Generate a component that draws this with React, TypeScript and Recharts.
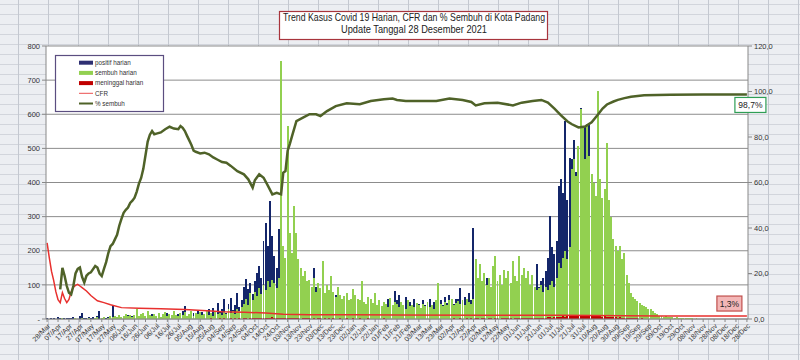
import React from 'react';
import { ComposedChart, Bar, Line, XAxis, YAxis, CartesianGrid, ReferenceDot } from 'recharts';

// one row every 2 days, from 28/Mar/2020 (day 0) to 28/Dec/2021 (day 640)
const STEP = 2;

const positif = [
  3,1,4,2,0,5,2,1,3,2,
  4,2,6,3,1,8,19,4,2,5,
  3,6,2,9,24,4,7,3,5,10,
  38,6,4,9,3,7,5,12,4,8,
  6,10,3,7,12,5,8,4,14,6,
  9,15,5,11,7,18,6,10,13,8,
  16,9,22,38,7,14,11,19,8,25,
  12,20,15,9,28,17,33,14,48,22,
  30,58,18,45,62,25,40,77,35,55,
  95,116,88,105,72,110,136,155,120,229,
  282,214,346,243,185,150,263,160,140,175,
  130,120,145,110,95,125,100,90,80,105,
  85,70,150,95,60,75,110,65,55,80,
  60,45,70,40,55,35,50,65,42,38,
  55,40,48,30,62,35,45,28,50,38,
  45,30,52,25,40,35,60,48,30,82,
  55,70,45,40,65,38,50,42,60,35,
  45,30,55,40,35,60,42,50,38,45,
  55,40,65,48,70,52,45,60,58,92,
  50,65,48,75,55,268,80,95,70,110,
  85,120,90,75,130,100,80,115,95,140,
  105,125,90,160,110,85,180,120,100,95,
  115,90,105,85,160,95,110,120,140,180,
  302,210,190,230,390,410,370,580,350,473,
  468,526,430,507,619,480,566,520,571,420,
  380,330,300,260,240,220,200,180,160,140,
  120,100,90,80,70,60,50,45,40,35,
  30,25,22,18,15,12,10,8,7,6,
  5,4,4,3,3,2,3,2,2,1,
  2,1,1,2,1,1,0,1,1,0,
  1,0,1,0,1,1,0,0,1,0,
  0,1,0,0,1,0,0,1,0,0,0,
];

const sembuh = [
  0,0,0,1,0,0,0,2,0,0,
  1,0,0,3,0,1,2,0,0,4,
  1,0,2,5,0,3,6,1,4,8,
  5,10,7,12,6,9,15,8,11,7,
  13,28,9,14,18,10,22,12,8,15,
  10,18,7,14,20,9,16,11,24,13,
  8,17,12,20,9,15,22,10,18,14,
  20,11,16,25,13,19,10,22,15,18,
  12,20,15,28,18,24,16,30,22,35,
  45,60,40,75,55,80,68,90,72,100,
  85,110,95,115,105,90,120,756,214,180,
  565,253,194,331,253,175,150,126,140,110,
  115,95,120,80,105,90,170,75,100,85,
  126,80,65,95,70,60,67,75,55,60,
  87,70,60,55,111,50,45,65,58,48,
  75,42,55,38,50,45,35,62,40,50,
  45,35,50,40,30,55,38,42,35,48,
  40,32,45,38,50,35,42,30,55,106,
  45,38,50,42,55,60,40,48,52,45,
  55,40,60,50,45,60,175,120,160,110,
  136,100,120,95,155,185,110,130,100,145,
  120,140,105,170,125,110,185,130,150,120,
  140,100,130,95,85,90,100,80,95,85,
  100,110,95,120,165,150,180,200,175,210,
  440,468,420,507,615,566,470,571,478,424,
  400,360,668,409,356,380,517,350,300,233,
  214,200,214,175,194,130,106,77,65,58,
  52,48,42,38,34,30,28,24,19,15,
  9,10,7,8,6,5,6,4,5,3,
  4,3,3,2,3,2,1,2,1,1,
  1,1,0,1,0,1,0,0,1,0,
  0,0,1,0,0,0,1,0,0,0,0,
];

const meninggal = [
  1,0,1,0,0,1,0,0,1,0, 0,1,0,0,0,1,0,0,0,1, 0,0,1,0,0,0,0,1,0,0, 0,0,0,1,0,0,0,0,1,0, 0,0,0,0,1,0,0,0,0,1,
  0,0,1,0,0,1,0,0,1,0, 1,0,0,1,0,1,0,1,0,1, 1,0,1,1,0,2,1,0,1,2, 1,2,1,0,2,1,3,1,2,1, 2,3,1,2,4,2,3,2,4,3,
  3,4,2,5,3,2,4,3,2,3, 3,2,4,2,3,2,1,3,2,2, 2,1,3,1,2,2,1,2,1,2, 1,2,1,1,2,1,1,2,1,1, 2,1,1,2,1,0,1,2,1,1,
  1,0,1,1,2,1,0,1,1,0, 1,1,0,1,0,1,1,0,1,0, 0,1,1,0,1,0,1,1,0,1, 1,0,1,1,0,1,2,1,1,2, 1,1,2,1,2,1,2,2,1,2,
  2,1,2,3,1,2,2,1,3,2, 2,3,2,1,3,2,2,3,2,3, 3,2,3,2,4,3,2,4,3,5, 5,4,6,5,7,6,8,7,9,8, 10,9,12,10,11,9,12,10,8,11,
  9,10,8,9,7,8,6,7,5,6, 5,4,5,3,4,3,3,2,3,2, 2,1,2,1,1,1,0,1,1,0, 1,0,0,1,0,0,1,0,0,0, 1,0,0,0,0,1,0,0,0,0,
  0,0,1,0,0,0,0,0,0,1, 0,0,0,0,0,0,1,0,0,0,0,
];

// CFR (%) read at these days
const cfrDays = [0,2,4,6,8,10,12,14,16,18,20,22,24,26,28,30,32,36,40,46,52,58,68,84,104,126,150,160,180,200,216,240,280,320,400,470,500,530,560,640];
const cfrValues = [33.5,27,21,17,12,8.5,7.2,11.6,9,7.2,8.6,12,14,14.8,15.2,14.5,13.8,12.3,10.3,8,7.2,6.3,5,4.7,4.5,4.2,3.5,3.2,3,2.6,2.1,1.9,1.9,1.8,1.7,1.6,1.5,1.4,1.3,1.3];

// % sembuh read at these days
const pctDays = [12,14,16,18,20,22,24,26,28,30,32,34,36,38,40,44,46,48,50,52,54,56,58,60,62,64,66,68,70,72,74,76,78,80,82,84,86,88,90,92,94,96,98,100,104,108,112,116,120,122,124,126,128,130,132,134,136,140,144,148,152,156,160,164,168,174,180,184,188,190,194,198,202,206,210,214,216,218,220,222,224,228,234,240,246,250,256,264,274,286,296,308,316,320,328,344,356,368,380,388,392,400,412,426,434,444,452,458,464,470,476,480,486,492,498,504,508,512,518,522,528,534,546,570,600,640];
const pctValues = [13,22.5,19,14.5,11.5,10.8,14.5,20,22,22.6,18.5,16,19,20,20.5,23.3,22.6,20,18.9,22,25,29,32,33,35,37,41,44,46.7,48,49,51,52,53.3,56,59.5,62,66,72,78,81,82.6,81.2,81.5,82,83.4,84.5,83.7,83.4,84.8,84,82.6,80.5,78.5,76.5,74,73.5,72.8,73.1,72.4,71,70,69,68.7,67.3,65,63.6,61.4,57.7,61,63.6,62.1,58.5,54.8,55.5,54.8,64.3,65,74,77,80.4,87,88.5,90,90,89.2,91.4,93.6,94.8,94.4,95.8,96.6,96.9,96.3,95.8,95.8,95.8,96.9,96.3,95.4,93.9,94.8,95.1,93.9,95.1,95.8,96.3,95.1,92.5,89.5,86.8,85.6,84.2,84.6,86.5,90,92.5,94.3,95.6,96.3,97.1,97.7,98.3,98.6,98.7,98.7];

const tickLabels = [
  '28/Mar','07/Apr','17/Apr','27/Apr','07/May','17/May','27/May','06/Jun','16/Jun','26/Jun',
  '06/Jul','16/Jul','26/Jul','05/Aug','15/Aug','25/Aug','04/Sep','14/Sep','24/Sep','04/Oct',
  '14/Oct','24/Oct','03/Nov','13/Nov','23/Nov','03/Dec','13/Dec','23/Dec','02/Jan','12/Jan',
  '22/Jan','01/Feb','11/Feb','21/Feb','03/Mar','13/Mar','23/Mar','02/Apr','12/Apr','22/Apr',
  '02/May','12/May','22/May','01/Jun','11/Jun','21/Jun','01/Jul','11/Jul','21/Jul','31/Jul',
  '10/Aug','20/Aug','30/Aug','09/Sep','19/Sep','29/Sep','09/Oct','19/Oct','29/Oct','08/Nov',
  '18/Nov','28/Nov','08/Dec','18/Dec','28/Dec',
];
const tickDays = tickLabels.map((_, i) => i * 10);
const leftTicks = [0, 100, 200, 300, 400, 500, 600, 700, 800];
const rightTicks = [0, 20, 40, 60, 80, 100, 120];

const legendItems = [
  { name: 'positif harian', color: '#2e2f72', kind: 'rect' },
  { name: 'sembuh harian', color: '#92d050', kind: 'rect' },
  { name: 'meninggal harian', color: '#c00000', kind: 'rect' },
  { name: 'CFR', color: '#ec4f4f', kind: 'thin' },
  { name: '% sembuh', color: '#4f6228', kind: 'thick' },
];

const cfrMap = new Map(cfrDays.map((d, i) => [d, cfrValues[i]]));
const pctMap = new Map(pctDays.map((d, i) => [d, pctValues[i]]));

const rows = positif.map((p, i) => {
  const day = i * STEP;
  return {
    day,
    positif: p,
    sembuh: sembuh[i],
    meninggal: meninggal[i],
    cfr: cfrMap.has(day) ? cfrMap.get(day) : null,
    pct: pctMap.has(day) ? pctMap.get(day) : null,
  };
});

const lastDay = (positif.length - 1) * STEP;
const lastPct = pctValues[pctValues.length - 1];
const lastCfr = cfrValues[cfrValues.length - 1];
const fmt1 = (v: number) => v.toFixed(1).replace('.', ',');

const FONT = '"Liberation Sans", Arial, sans-serif';

const PctBox = (props: any) => {
  const vb = props.viewBox || {};
  const cx = vb.x + (vb.width || 0) / 2;
  const cy = vb.y + (vb.height || 0) / 2;
  return (
    <g>
      <rect x={cx - 12} y={cy + 3} width={31} height={15} fill="#ffffff" stroke="#2f9e55" strokeWidth={1.2} />
      <text x={cx + 3.5} y={cy + 13.5} textAnchor="middle" fontSize={8.5} fill="#222" fontFamily={FONT}>{fmt1(lastPct)}%</text>
    </g>
  );
};

const CfrBox = (props: any) => {
  const vb = props.viewBox || {};
  const cx = vb.x + (vb.width || 0) / 2;
  const cy = vb.y + (vb.height || 0) / 2;
  return (
    <g>
      <rect x={cx - 30} y={cy - 20} width={25} height={15} fill="#f3b7b7" stroke="#c0504d" strokeWidth={1.2} />
      <text x={cx - 17.5} y={cy - 9.5} textAnchor="middle" fontSize={8.5} fill="#222" fontFamily={FONT}>{fmt1(lastCfr)}%</text>
    </g>
  );
};

export default function App() {
  return (
    <div style={{
      position: 'absolute', left: 0, top: 0, width: 800, height: 360, overflow: 'hidden',
      backgroundColor: '#eceef2',
      backgroundImage: 'linear-gradient(to right, #c4c8d0 1px, transparent 1px), linear-gradient(to bottom, #d2d5dc 1px, transparent 1px)',
      backgroundSize: '30px 100%, 100% 10px',
      backgroundPosition: '18px 0, 0 4px',
    }}>
      <ComposedChart width={800} height={360} data={rows} margin={{ top: 46, right: 0, bottom: 0, left: 0 }}>
        <CartesianGrid xAxisId="main" yAxisId="left" vertical={false} stroke="#8c8c8c" fill="#ffffff" />
        <XAxis xAxisId="b" dataKey="day" type="number" domain={[-1, 641]} orientation="top" height={0} hide />
        <XAxis xAxisId="c" dataKey="day" type="number" domain={[-1, 641]} orientation="top" height={0} hide />
        <XAxis xAxisId="main" dataKey="day" type="number" domain={[-1, 641]} ticks={tickDays} interval={0}
          tickFormatter={(v: number) => tickLabels[Math.round(v / 10)]}
          tick={{ angle: -45, textAnchor: 'end', fontSize: 7, fill: '#333', fontFamily: FONT }}
          tickMargin={1} tickSize={3} tickLine={{ stroke: '#888' }} axisLine={{ stroke: '#888' }} height={41} />
        <YAxis yAxisId="left" domain={[0, 800]} ticks={leftTicks} interval={0} width={46}
          tickFormatter={(v: number) => (v === 0 ? '-' : String(v))}
          tick={{ fontSize: 7.5, fill: '#333', fontFamily: FONT }} tickSize={4}
          tickLine={{ stroke: '#888' }} axisLine={{ stroke: '#888' }} />
        <YAxis yAxisId="right" orientation="right" domain={[0, 120]} ticks={rightTicks} interval={0} width={52}
          tickFormatter={(v: number) => fmt1(v)}
          tick={{ fontSize: 7.5, fill: '#333', fontFamily: FONT }} tickSize={4}
          tickLine={{ stroke: '#888' }} axisLine={{ stroke: '#888' }} />
        <Bar xAxisId="main" yAxisId="left" dataKey="positif" fill="#14266a" barSize={2.6}
          shapeRendering="crispEdges" isAnimationActive={false} />
        <Bar xAxisId="b" yAxisId="left" dataKey="sembuh" fill="#92d050" barSize={2.6}
          shapeRendering="crispEdges" isAnimationActive={false} />
        <Bar xAxisId="c" yAxisId="left" dataKey="meninggal" fill="#c00000" barSize={2.6}
          shapeRendering="crispEdges" isAnimationActive={false} />
        <Line xAxisId="main" yAxisId="right" dataKey="cfr" stroke="#e8302e" strokeWidth={1.5} dot={false}
          connectNulls isAnimationActive={false} />
        <Line xAxisId="main" yAxisId="right" dataKey="pct" stroke="#4f6228" strokeWidth={2.5} dot={false}
          connectNulls isAnimationActive={false} />
        <ReferenceDot xAxisId="main" yAxisId="right" x={lastDay} y={lastPct} r={0} fill="none" stroke="none"
          label={(p: any) => <PctBox {...p} />} />
        <ReferenceDot xAxisId="main" yAxisId="right" x={lastDay} y={lastCfr} r={0} fill="none" stroke="none"
          label={(p: any) => <CfrBox {...p} />} />
      </ComposedChart>
      <svg width={800} height={360} style={{ position: 'absolute', left: 0, top: 0, pointerEvents: 'none' }}>
        <rect x={279.5} y={11.5} width={268} height={28} fill="#ffffff" stroke="#a8343c" strokeWidth={1.2} />
        <text x={414} y={21} textAnchor="middle" fontSize={10.5} fill="#222" fontFamily={FONT}
          textLength={262} lengthAdjust="spacingAndGlyphs">Trend Kasus Covid 19 Harian, CFR dan % Sembuh di Kota Padang</text>
        <text x={414} y={33} textAnchor="middle" fontSize={10.5} fill="#222" fontFamily={FONT}
          textLength={146} lengthAdjust="spacingAndGlyphs">Update Tanggal  28 Desember 2021</text>
        <rect x={55.5} y={55.5} width={108} height={56} fill="#ffffff" stroke="#5b4e80" strokeWidth={1.2} />
        {legendItems.map((it, i) => {
          const cy = 62.7 + i * 10.2;
          return (
            <g key={it.name}>
              {it.kind === 'rect' && <rect x={79} y={cy - 2} width={14} height={4} fill={it.color} />}
              {it.kind === 'thin' && <line x1={79} x2={93} y1={cy} y2={cy} stroke={it.color} strokeWidth={1} />}
              {it.kind === 'thick' && <line x1={79} x2={93} y1={cy} y2={cy} stroke={it.color} strokeWidth={2} />}
              <text x={95} y={cy + 2.2} fontSize={6.3} fill="#333" fontFamily={FONT}>{it.name}</text>
            </g>
          );
        })}
      </svg>
    </div>
  );
}
